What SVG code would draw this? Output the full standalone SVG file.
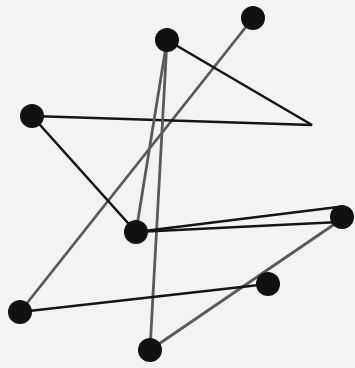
<svg xmlns="http://www.w3.org/2000/svg" width="355" height="368" viewBox="0 0 355 368">
<style>
.bg{fill:#f3f3f3}
.dk{stroke:#151515;stroke-width:2.6;fill:none;stroke-linecap:round;stroke-linejoin:miter}
.gr{stroke:#5a5a5a;stroke-width:2.8;fill:none;stroke-linecap:round}
.dot{fill:#111}
</style>
<rect class="bg" x="0" y="0" width="355" height="368"/>
<g id="connectors">
<line class="gr" x1="253" y1="18" x2="20" y2="312"/>
<polyline class="dk" points="167,40 312,125 32,116"/>
<line class="dk" x1="32" y1="116" x2="136" y2="232"/>
<line class="gr" x1="167" y1="40" x2="136" y2="232"/>
<line class="gr" x1="167" y1="40" x2="150" y2="350"/>
<line class="dk" x1="136" y1="232" x2="338" y2="207"/>
<line class="dk" x1="136" y1="232" x2="340" y2="222"/>
<line class="gr" x1="342" y1="219" x2="150" y2="350"/>
<line class="dk" x1="20" y1="312" x2="268" y2="284"/>
</g>
<g id="nA"><circle class="dot" cx="253" cy="18" r="12"/></g>
<g id="nB"><circle class="dot" cx="167" cy="40" r="12"/></g>
<g id="nC"><circle class="dot" cx="32" cy="116" r="12"/></g>
<g id="nD"><circle class="dot" cx="136" cy="232" r="12"/></g>
<g id="nE"><circle class="dot" cx="342" cy="217" r="12"/></g>
<g id="nF"><circle class="dot" cx="268" cy="284" r="12"/></g>
<g id="nG"><circle class="dot" cx="20" cy="312" r="12"/></g>
<g id="nH"><circle class="dot" cx="150" cy="350" r="12"/></g>
</svg>
